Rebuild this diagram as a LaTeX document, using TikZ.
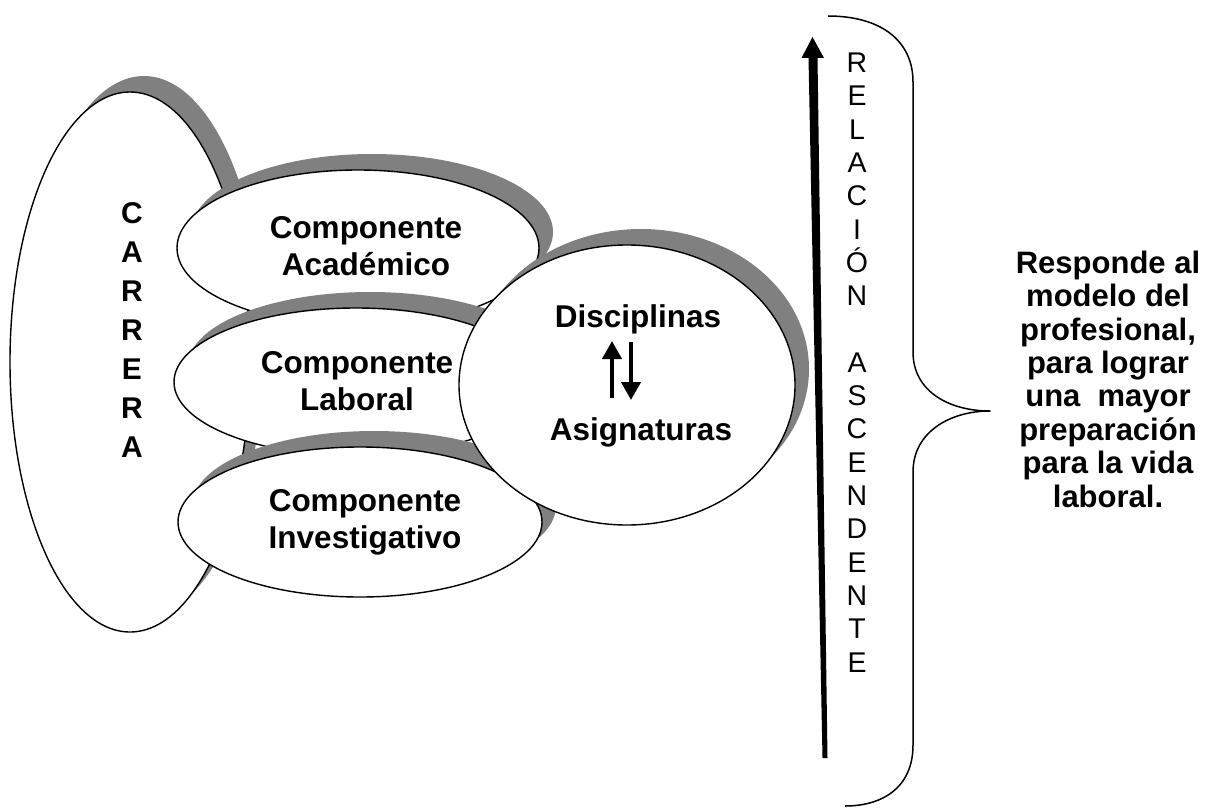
\documentclass[tikz,border=0pt]{standalone}
\usepackage{fontspec}
\setmainfont{Liberation Sans}
\usetikzlibrary{shapes.geometric,arrows.meta}
\definecolor{shadowgray}{HTML}{808080}
\begin{document}
\begin{tikzpicture}[x=1pt,y=-1pt,
  bubble/.style={ellipse, draw=black, line width=1.4pt, fill=white, inner sep=0pt},
  shadowfill/.style={fill=shadowgray, draw=none},
  comptext/.style={font=\fontsize{31.5}{37}\selectfont\bfseries, align=center, anchor=base, inner sep=0pt},
  stackbold/.style={font=\fontsize{30}{39}\selectfont\bfseries, align=center, anchor=base, inner sep=0pt},
  stackthin/.style={font=\fontsize{28.5}{33.3}\selectfont, align=center, anchor=base, inner sep=0pt},
  sidetext/.style={font=\fontsize{31}{33.4}\selectfont\bfseries, align=center, anchor=base, inner sep=0pt},
  smallarrow/.style={line width=4pt, -{Triangle[width=19pt,length=18pt]}},
  bracestyle/.style={line width=1.5pt, line join=round}
]
\useasboundingbox (0,0) rectangle (1207,808);

% bubbles, each with its grey shadow offset up and right
\path[shadowfill] (144,346) ellipse [x radius=120, y radius=270];
\node[bubble, minimum width=240pt, minimum height=540pt] (carrera) at (130,362) {};
\path[shadowfill] (372,232) ellipse [x radius=181, y radius=78];
\node[bubble, minimum width=362pt, minimum height=156pt] (acad) at (358,248) {};
\path[shadowfill] (370,366) ellipse [x radius=182, y radius=74];
\node[bubble, minimum width=364pt, minimum height=148pt] (lab) at (356,382) {};
\path[shadowfill] (374,506) ellipse [x radius=182, y radius=75];
\node[bubble, minimum width=364pt, minimum height=150pt] (inv) at (360,522) {};
\path[shadowfill] (641,369) ellipse [x radius=168, y radius=140];
\node[bubble, minimum width=336pt, minimum height=280pt] (disc) at (627,385) {};

% texts (anchor = baseline of the last line)
\node[stackbold] (carreraT) at (132,457) {C\\A\\R\\R\\E\\R\\A};
\node[comptext] (acadT) at (366,275) {Componente\\Académico};
\node[comptext] (labT) at (357,410) {Componente\\Laboral};
\node[comptext] (invT) at (365,548) {Componente\\Investigativo};
\node[comptext] (discT) at (638,327) {Disciplinas};
\node[comptext] (asigT) at (641,440) {Asignaturas};

% small arrows between Disciplinas and Asignaturas
\coordinate (upS) at (612,398);
\coordinate (upE) at (612,341);
\coordinate (dnS) at (631,342);
\coordinate (dnE) at (631,400);
\draw[smallarrow] (upS) -- (upE);
\draw[smallarrow] (dnS) -- (dnE);

% big ascending arrow (tapered)
\fill[black] (808.5,58) -- (817.5,58) -- (827.5,758) -- (822.5,758) -- cycle;
\fill[black] (801.5,58) -- (824,58) -- (812.5,37) -- cycle;

% vertical text
\node[stackthin] (relT) at (857,672) {R\\E\\L\\A\\C\\I\\Ó\\N\\\mbox{}\\A\\S\\C\\E\\N\\D\\E\\N\\T\\E};

% brace
\draw[bracestyle] (828,16) .. controls (880,16) and (913,40) .. (913,82)
  -- (913,352) .. controls (913,392) and (950,411) .. (990,411)
  .. controls (950,411) and (913,432) .. (913,472)
  -- (913,745) .. controls (913,788) and (882,806) .. (845,806);

% right text
\node[sidetext] (respT) at (1108,507) {Responde al\\modelo del\\profesional,\\para lograr\\una\ \ mayor\\preparación\\para la vida\\laboral.};
\end{tikzpicture}
\end{document}
